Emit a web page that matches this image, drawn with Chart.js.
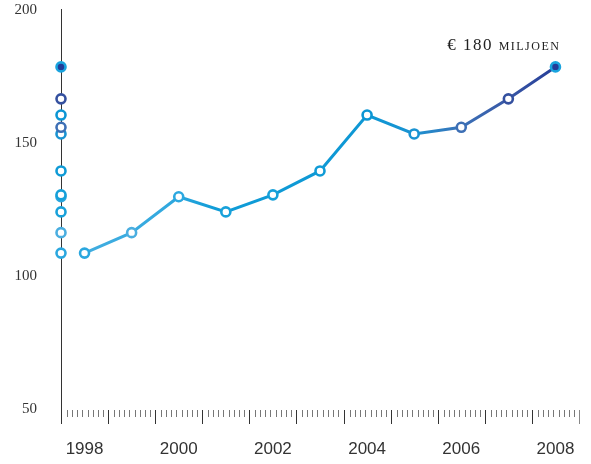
<!DOCTYPE html>
<html>
<head>
<meta charset="utf-8">
<script src="https://cdn.jsdelivr.net/npm/chart.js@4"></script>
<style>
  html, body { margin: 0; padding: 0; background: #fff; }
  #wrap { width: 591px; height: 464px; position: relative; }
</style>
</head>
<body>
<div id="wrap"><canvas id="myChart"></canvas></div>
<script>
// Data
// =======================================================
var years = [1998, 1999, 2000, 2001, 2002, 2003, 2004, 2005, 2006, 2007, 2008];
var turnover = [108.6, 116.3, 129.8, 124.1, 130.5, 139.5, 160.5, 153.4, 155.9, 166.6, 178.6];
var yTicks = [50, 100, 150, 200];
var note = "€ 180 miljoen";

// colours of each point ring, last one is filled
var ringColors = ['#2aa7df', '#4aaee0', '#2ca8e0', '#18a1da', '#16a0d9', '#0f9bd6',
    '#0c96d4', '#1a93d2', '#3d6fb5', '#34509f', '#19a3de'];
var fillColors = ['#fff', '#fff', '#fff', '#fff', '#fff', '#fff',
    '#fff', '#fff', '#fff', '#fff', '#233c98'];

// Line colour runs from light blue to dark blue
// =======================================================
function lineGradient(context) {
    var chart = context.chart;
    var area = chart.chartArea;
    if (!area) {
        return '#0f9bd6';
    }
    var g = chart.ctx.createLinearGradient(area.left, 0, area.right, 0);
    g.addColorStop(0.0, '#45aee0');
    g.addColorStop(0.2, '#33a9df');
    g.addColorStop(0.3, '#0f9cd7');
    g.addColorStop(0.6, '#0e97d4');
    g.addColorStop(0.68, '#1a92d1');
    g.addColorStop(0.77, '#3a72b8');
    g.addColorStop(0.86, '#3958a6');
    g.addColorStop(0.95, '#263f99');
    g.addColorStop(1, '#263f99');
    return g;
}

// Axis line, year ticks and the label at the last point
// =======================================================
var decorations = {
    id: 'decorations',
    beforeDatasetsDraw: function (chart) {
        var ctx = chart.ctx;
        var x = chart.scales.x;
        var y = chart.scales.y;
        var top = y.getPixelForValue(50);
        var left = Math.round(x.getPixelForValue(years[0] - 0.5)) + 0.5;

        ctx.save();
        // vertical axis
        ctx.strokeStyle = '#333';
        ctx.lineWidth = 1;
        ctx.beginPath();
        ctx.moveTo(left, y.getPixelForValue(200) - 1);
        ctx.lineTo(left, top + 15);
        ctx.stroke();

        // one band per year, 8 small ticks inside
        for (var i = 0; i <= years.length; i++) {
            var px = Math.round(x.getPixelForValue(years[0] - 0.5 + i)) + 0.5;
            ctx.strokeStyle = i === years.length ? '#888' : '#333';
            ctx.beginPath();
            ctx.moveTo(px, top + 1);
            ctx.lineTo(px, top + 15);
            ctx.stroke();
            if (i === years.length) break;
            var step = (x.getPixelForValue(years[0] + 0.5) - x.getPixelForValue(years[0] - 0.5)) / 9;
            ctx.strokeStyle = '#777';
            for (var k = 1; k <= 8; k++) {
                var mx = Math.round(px + k * step) + 0.5;
                ctx.beginPath();
                ctx.moveTo(mx, top + 1);
                ctx.lineTo(mx, top + 8);
                ctx.stroke();
            }
        }
        ctx.restore();
    },
    afterDatasetsDraw: function (chart) {
        var ctx = chart.ctx;
        var lastX = chart.scales.x.getPixelForValue(years[years.length - 1]);
        var lastY = chart.scales.y.getPixelForValue(turnover[turnover.length - 1]);
        ctx.save();
        ctx.font = 'small-caps 17px "Liberation Serif"';
        ctx.letterSpacing = '1.5px';
        ctx.fillStyle = '#222';
        ctx.textAlign = 'right';
        ctx.textBaseline = 'alphabetic';
        ctx.fillText(note, lastX + 5, lastY - 17);
        ctx.restore();
    }
};

var ctx = document.getElementById("myChart");

var myChart = new Chart(ctx, {
    type: "line",
    data: {
        datasets: [{
            label: 'Omzet',
            data: years.map(function (yr, i) { return { x: yr, y: turnover[i] }; }),
            borderColor: lineGradient,
            borderWidth: 3,
            pointRadius: 4.5,
            pointBorderWidth: 2.6,
            pointBorderColor: ringColors,
            pointBackgroundColor: fillColors,
            tension: 0,
            clip: false
        }, {
            label: 'As',
            data: years.map(function (yr, i) { return { x: years[0] - 0.5, y: turnover[i] }; }),
            showLine: false,
            pointRadius: 4.5,
            pointBorderWidth: 2.6,
            pointBorderColor: ringColors,
            pointBackgroundColor: fillColors,
            clip: false
        }]
    },
    options: {
        responsive: true,
        maintainAspectRatio: false,
        animation: false,
        layout: {
            autoPadding: false,
            padding: { top: 10, right: 12, bottom: 5, left: 0 }
        },
        plugins: {
            legend: { display: false },
            tooltip: { enabled: false }
        },
        scales: {
            x: {
                type: 'linear',
                min: years[0] - 0.5,
                max: years[years.length - 1] + 0.5,
                afterBuildTicks: function (scale) {
                    scale.ticks = years.map(function (v) { return { value: v }; });
                },
                afterFit: function (scale) {
                    scale.height = 50;
                    scale.paddingLeft = 0;
                    scale.paddingRight = 0;
                },
                grid: { display: false, drawTicks: false },
                border: { display: false },
                ticks: {
                    autoSkip: false,
                    maxRotation: 0,
                    padding: 30,
                    color: '#333',
                    font: { family: '"Liberation Sans Narrow", "Liberation Sans", sans-serif', size: 17 },
                    callback: function (value) {
                        return value % 2 === 0 ? String(value) : '';
                    }
                }
            },
            y: {
                min: yTicks[0],
                max: yTicks[yTicks.length - 1],
                afterBuildTicks: function (scale) {
                    scale.ticks = yTicks.map(function (v) { return { value: v }; });
                },
                afterFit: function (scale) {
                    scale.width = 61;
                    scale.paddingTop = 0;
                    scale.paddingBottom = 0;
                },
                grid: { display: false, drawTicks: false },
                border: { display: false },
                ticks: {
                    padding: 24,
                    color: '#333',
                    font: { family: '"Liberation Serif", serif', size: 15 },
                    callback: function (value) { return String(value); }
                }
            }
        }
    },
    plugins: [decorations]
});
</script>
</body>
</html>
